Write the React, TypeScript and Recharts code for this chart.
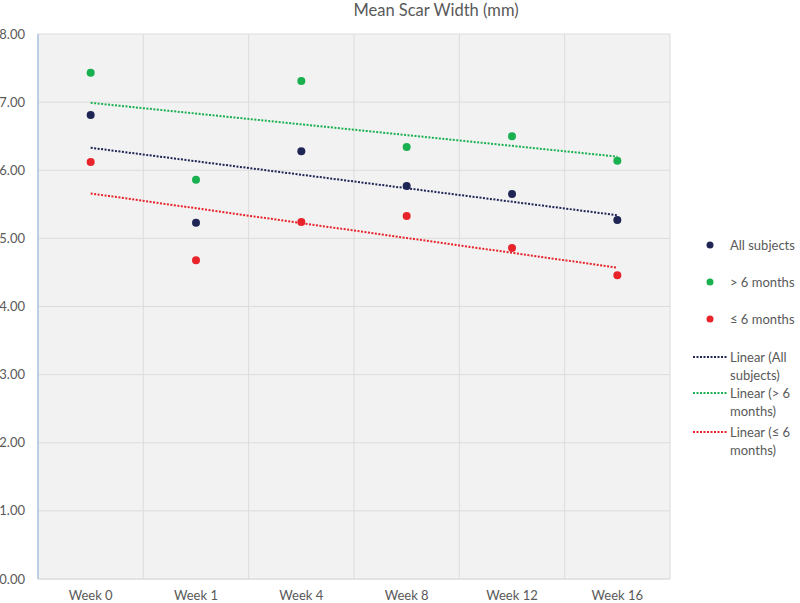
import React from "react";
import {
  ComposedChart,
  Scatter,
  XAxis,
  YAxis,
  CartesianGrid,
  ReferenceLine,
} from "recharts";

const WEEKS = ["Week 0", "Week 1", "Week 4", "Week 8", "Week 12", "Week 16"];
const ALL_SUBJECTS = [6.81, 5.23, 6.28, 5.77, 5.65, 5.27];
const OVER_6_MONTHS = [7.43, 5.86, 7.31, 6.34, 6.5, 6.14];
const UNDER_6_MONTHS = [6.12, 4.68, 5.24, 5.33, 4.86, 4.46];

// trendline ends (first week, last week), as drawn
const TREND_ALL = [6.33, 5.34];
const TREND_OVER = [6.99, 6.2];
const TREND_UNDER = [5.66, 4.57];

const Y_TICKS = [0, 1, 2, 3, 4, 5, 6, 7, 8];

const NAVY = "#1f2656";
const GREEN = "#19b050";
const RED = "#e8232a";
const TEXT = "#595959";
const FONT = "Lato, 'Open Sans', sans-serif";

const data = WEEKS.map((week, i) => ({
  week,
  all: ALL_SUBJECTS[i],
  over: OVER_6_MONTHS[i],
  under: UNDER_6_MONTHS[i],
}));

const LEGEND = [
  { kind: "dot", color: NAVY, lines: ["All subjects"], top: 236 },
  { kind: "dot", color: GREEN, lines: ["> 6 months"], top: 273 },
  { kind: "dot", color: RED, lines: ["\u2264 6 months"], top: 310 },
  { kind: "line", color: NAVY, lines: ["Linear (All", "subjects)"], top: 348 },
  { kind: "line", color: GREEN, lines: ["Linear (> 6", "months)"], top: 384 },
  { kind: "line", color: RED, lines: ["Linear (\u2264 6", "months)"], top: 423 },
];

const Dot = (props: any) => (
  <circle cx={props.cx} cy={props.cy} r={4} fill={props.fill} />
);

export default function App() {
  const trend = (ends: number[], color: string, key: string) => (
    <ReferenceLine
      key={key}
      segment={[
        { x: WEEKS[0], y: ends[0] },
        { x: WEEKS[WEEKS.length - 1], y: ends[1] },
      ]}
      stroke={color}
      strokeWidth={2}
      strokeDasharray="2 1.5"
      ifOverflow="visible"
    />
  );

  return (
    <div
      style={{
        position: "absolute",
        left: 0,
        top: 0,
        width: 800,
        height: 603,
        background: "#fff",
        fontFamily: FONT,
      }}
    >
      <div
        style={{
          position: "absolute",
          left: 0,
          width: 872,
          top: 1,
          textAlign: "center",
          fontSize: 16.5,
          lineHeight: "18px",
          color: TEXT,
        }}
      >
        Mean Scar Width (mm)
      </div>
      <ComposedChart
        width={800}
        height={603}
        data={data}
        margin={{ top: 34, right: 130, bottom: 0, left: 0 }}
      >
        <CartesianGrid
          stroke="#dcdcdc"
          fill="#f2f2f2"
          verticalCoordinatesGenerator={({ offset }: any) =>
            WEEKS.map((_, i) => offset.left + (i * offset.width) / WEEKS.length).concat(
              offset.left + offset.width
            )
          }
        />
        <XAxis
          dataKey="week"
          type="category"
          scale="band"
          height={24}
          tickLine={false}
          tickMargin={6}
          axisLine={{ stroke: "#dcdcdc" }}
          tick={{ fill: TEXT, fontSize: 13, fontFamily: FONT }}
        />
        <YAxis
          type="number"
          domain={[0, 8]}
          ticks={Y_TICKS}
          width={38}
          tickLine={false}
          tickMargin={7}
          axisLine={{ stroke: "#8fb3de" }}
          tickFormatter={(v: number) => v.toFixed(2)}
          tick={{ fill: TEXT, fontSize: 13, fontFamily: FONT }}
        />
        <Scatter dataKey="all" fill={NAVY} shape={Dot} isAnimationActive={false} />
        <Scatter dataKey="over" fill={GREEN} shape={Dot} isAnimationActive={false} />
        <Scatter dataKey="under" fill={RED} shape={Dot} isAnimationActive={false} />
        {trend(TREND_ALL, NAVY, "t-all")}
        {trend(TREND_OVER, GREEN, "t-over")}
        {trend(TREND_UNDER, RED, "t-under")}
      </ComposedChart>
      {LEGEND.map((item) => (
        <div
          key={item.lines.join(" ")}
          style={{
            position: "absolute",
            left: 690,
            top: item.top,
            display: "flex",
            alignItems: "flex-start",
            fontSize: 13,
            lineHeight: "18px",
            color: TEXT,
          }}
        >
          <svg width={40} height={18} style={{ flex: "none" }}>
            {item.kind === "dot" ? (
              <circle cx={20} cy={9} r={3.5} fill={item.color} />
            ) : (
              <line
                x1={3}
                x2={37}
                y1={9}
                y2={9}
                stroke={item.color}
                strokeWidth={2}
                strokeDasharray="2 1.5"
              />
            )}
          </svg>
          <div>
            {item.lines.map((l) => (
              <div key={l}>{l}</div>
            ))}
          </div>
        </div>
      ))}
    </div>
  );
}
